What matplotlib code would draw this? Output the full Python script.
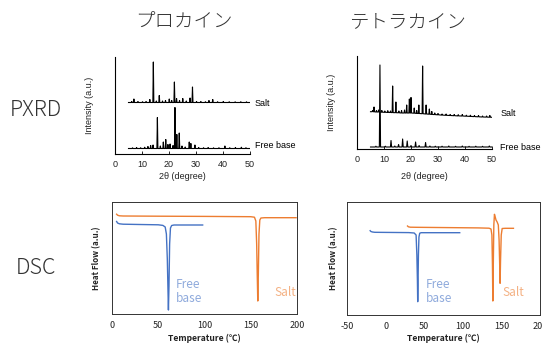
import numpy as np
import matplotlib
matplotlib.use("Agg")
import matplotlib.pyplot as plt

plt.rcParams["axes.unicode_minus"] = False

# --- PXRD peak lists (2theta, top of peak, foot level) ---
# procaine salt, flat baseline
pro_salt_pos = [6.2, 7.0, 8.5, 10.2, 11.5, 12.9, 14.2, 15.3, 16.4, 17.6, 18.7, 20.1, 21.0, 22.0, 22.8,
                23.9, 25.1, 26.4, 27.8, 28.7, 30.2, 31.8, 33.5, 34.8, 36.2, 38.0, 40.1, 42.3, 44.5, 46.6, 48.7]
pro_salt_top = [52.5, 55.0, 52.5, 52.3, 52.5, 54.5, 92.0, 53.0, 58.5, 53.0, 53.5, 55.0, 53.5, 72.0, 55.5,
                53.5, 55.5, 53.0, 56.0, 67.0, 52.5, 52.5, 52.3, 53.5, 54.5, 52.3, 52.5, 52.3, 52.2, 52.3, 52.2]
pro_salt_base = 51.5

# procaine free base
pro_free_pos = [6.5, 8.0, 9.5, 11.0, 12.2, 13.2, 14.1, 15.7, 16.8, 17.9, 18.8, 19.6, 20.4, 21.5, 22.2, 22.9,
                23.8, 24.8, 26.0, 27.5, 28.1, 29.6, 31.0, 32.8, 34.5, 36.5, 38.5, 40.7, 42.5, 44.6, 46.8, 48.5]
pro_free_top = [6.2, 6.5, 6.3, 6.8, 7.5, 8.5, 9.0, 36.5, 8.0, 12.0, 14.5, 9.5, 10.0, 8.5, 46.5, 19.5,
                21.0, 8.0, 7.0, 12.0, 10.5, 9.0, 6.5, 6.3, 6.5, 6.2, 6.3, 8.0, 6.3, 6.5, 6.8, 6.3]
pro_free_base = 5.5

# tetracaine salt, baseline drifts down
tet_salt_pos = [5.8, 6.3, 7.2, 8.0, 9.2, 10.3, 11.4, 12.4, 13.2, 14.4, 15.5, 16.5, 17.6, 18.4, 19.4, 20.0,
                21.2, 22.1, 22.9, 24.3, 25.6, 26.8, 27.7, 28.8, 30.0, 31.5, 33.0, 34.5, 36.0, 37.5, 39.0,
                40.5, 42.0, 43.5, 45.0, 46.5, 48.0, 49.2]
tet_salt_top = [38.5, 42.0, 38.5, 39.0, 38.5, 38.0, 38.3, 38.0, 63.0, 47.0, 38.0, 38.5, 39.0, 44.0, 50.0, 51.5,
                41.0, 38.5, 44.0, 83.0, 44.0, 40.0, 37.5, 36.0, 35.5, 35.0, 35.0, 34.5, 34.5, 34.3, 34.5,
                33.8, 33.8, 33.5, 33.5, 33.0, 33.0, 33.5]
tet_salt_foot = [37.3, 37.2, 37.0, 37.0, 36.8, 36.7, 36.6, 36.5, 36.4, 36.3, 36.2, 36.0, 36.0, 36.0, 36.0, 36.0,
                 35.8, 35.6, 35.5, 35.3, 35.0, 34.8, 34.6, 34.4, 34.2, 33.9, 33.7, 33.5, 33.3, 33.1, 33.0,
                 32.8, 32.6, 32.4, 32.2, 32.0, 31.9, 31.8]
tet_salt_ends = (37.3, 31.7)

# tetracaine free base
tet_free_pos = [7.0, 8.5, 10.5, 12.6, 14.0, 15.4, 16.9, 18.6, 20.0, 21.7, 23.0, 25.4, 27.0, 29.0, 31.5,
                34.0, 36.5, 39.0, 41.5, 44.0, 46.5, 49.0]
tet_free_top = [2.8, 84.0, 2.8, 8.5, 3.0, 4.5, 10.0, 8.0, 3.5, 7.0, 3.5, 6.5, 3.0, 2.8, 2.8,
                3.0, 2.7, 3.0, 2.7, 2.8, 2.7, 3.0]
tet_free_base = 2.0

# --- DSC curves (temperature, heat flow) ---
pro_dsc_free_T = [5, 6, 8, 12, 30, 50, 55, 57.5, 58.8, 59.8, 60.5, 61.0, 61.6, 62.3, 63.2, 64.5, 67, 80, 98]
pro_dsc_free_hf = [92.5, 91.0, 90.2, 89.8, 89.5, 89.2, 88.6, 87.0, 80.0, 55.0, 25.0, 4.0, 28.0, 70.0, 86.0,
                   88.5, 89.0, 89.0, 89.0]
pro_dsc_salt_T = [5, 6, 8, 12, 50, 100, 150, 154, 155.5, 156.4, 157.0, 157.6, 158.2, 158.9, 159.8, 161,
                  165, 180, 199]
pro_dsc_salt_hf = [99.8, 98.8, 98.2, 98.0, 97.8, 97.6, 97.3, 96.8, 93.0, 70.0, 40.0, 13.0, 40.0, 80.0, 94.0,
                   96.0, 96.3, 96.3, 96.3]

tet_dsc_free_T = [-20, -19, -17, -14, 0, 30, 37, 39.5, 40.5, 41.2, 41.6, 42.0, 42.5, 43.2, 44.2, 46, 55, 80, 96]
tet_dsc_free_hf = [84.3, 83.5, 83.0, 82.7, 82.6, 82.4, 82.0, 80.0, 60.0, 35.0, 13.3, 30.0, 60.0, 78.0, 81.8,
                   82.3, 82.3, 82.3, 82.3]
tet_dsc_salt_T = [28.4, 29.5, 32, 40, 80, 120, 134, 136.5, 137.7, 138.4, 138.9, 139.5, 140.2, 141.0, 142.0,
                  143.0, 144.5, 146.0, 147.0, 147.8, 148.3, 148.9, 149.8, 151, 155, 165.6]
tet_dsc_salt_hf = [89.0, 88.2, 87.8, 87.7, 87.4, 87.1, 86.8, 86.0, 80.0, 50.0, 14.0, 50.0, 90.0, 100.7, 98.0,
                   95.0, 93.0, 90.0, 75.0, 50.0, 31.7, 55.0, 80.0, 86.5, 86.7, 86.7]

BLUE = "#4472C4"
ORANGE = "#ED7D31"
BLUE_TXT = "#8FAADC"
ORANGE_TXT = "#F4B183"
JP = ["Noto Sans CJK JP", "DejaVu Sans"]
LAT = ["Liberation Sans", "DejaVu Sans"]

W, H = 542, 345


def px_axes(fig, left, top, right, bottom):
    return fig.add_axes([left / W, 1 - bottom / H, (right - left) / W, (bottom - top) / H])


def pattern(pos, top, foot, start, end, w=0.18):
    # stick pattern: each peak is a narrow triangle on its foot level
    if np.isscalar(foot):
        foot = [foot] * len(pos)
    x = [5.0]
    y = [start]
    for p, t, f in zip(pos, top, foot):
        x += [p - w, p, p + w]
        y += [f, t, f]
    x.append(50.0)
    y.append(end)
    return x, y


def style_pxrd(ax, ymax):
    ax.set_xlim(0, 50)
    ax.set_ylim(0, ymax)
    for s in ["top", "right"]:
        ax.spines[s].set_visible(False)
    for s in ["left", "bottom"]:
        ax.spines[s].set_linewidth(0.8)
    ax.set_yticks([])
    ax.set_xticks(range(0, 51, 10))
    ax.tick_params(axis="x", direction="in", length=2.5, width=0.6, pad=4.5, labelsize=6.5,
                   labelcolor="#222222")
    for lab in ax.get_xticklabels():
        lab.set_family(LAT)
    ax.set_xlabel("2θ (degree)", fontsize=6.5, family=LAT, color="#222222")
    ax.set_ylabel("Intensity (a.u.)", fontsize=6.5, family=LAT, color="#222222")


def style_dsc(ax, xlim, xticks, ymax):
    ax.set_xlim(*xlim)
    ax.set_ylim(0, ymax)
    for s in ax.spines.values():
        s.set_linewidth(0.7)
        s.set_color("#333333")
    ax.set_yticks([])
    ax.set_xticks(xticks)
    ax.tick_params(axis="x", length=0, pad=5, labelsize=6.5, labelcolor="#222222")
    for lab in ax.get_xticklabels():
        lab.set_family(JP)
    ax.set_xlabel("Temperature (℃)", fontsize=6.2, family=JP, fontweight="bold", color="#222222")
    ax.set_ylabel("Heat Flow (a.u.)", fontsize=5.8, family=JP, fontweight="bold", color="#222222")


fig = plt.figure(figsize=(W / 100, H / 100), dpi=100)

# procaine PXRD
ax1 = px_axes(fig, 115, 57, 250, 154)
x, y = pattern(pro_salt_pos, pro_salt_top, pro_salt_base, pro_salt_base, pro_salt_base)
ax1.plot(x, y, color="black", lw=0.8)
x, y = pattern(pro_free_pos, pro_free_top, pro_free_base, pro_free_base, pro_free_base)
ax1.plot(x, y, color="black", lw=0.8)
style_pxrd(ax1, 97)
ax1.xaxis.set_label_coords(0.5, -0.185)
ax1.yaxis.set_label_coords(-0.155, 0.5)
ax1.text(51.8, 50, "Salt", fontsize=6.5, family=LAT, va="center", clip_on=False)
ax1.text(51.8, 8, "Free base", fontsize=6.5, family=LAT, va="center", clip_on=False)

# tetracaine PXRD
ax2 = px_axes(fig, 357, 56, 492, 149)
x, y = pattern(tet_salt_pos, tet_salt_top, tet_salt_foot, *tet_salt_ends)
ax2.plot(x, y, color="black", lw=0.8)
x, y = pattern(tet_free_pos, tet_free_top, tet_free_base, tet_free_base, tet_free_base, w=0.22)
ax2.plot(x, y, color="black", lw=0.8)
style_pxrd(ax2, 93)
ax2.xaxis.set_label_coords(0.5, -0.245)
ax2.yaxis.set_label_coords(-0.156, 0.5)
ax2.text(53, 35, "Salt", fontsize=6.5, family=LAT, va="center", clip_on=False)
ax2.text(53, 2, "Free base", fontsize=6.5, family=LAT, va="center", clip_on=False)

# procaine DSC
ax3 = px_axes(fig, 112, 202, 297, 314)
ax3.plot(pro_dsc_free_T, pro_dsc_free_hf, color=BLUE, lw=1.0)
ax3.plot(pro_dsc_salt_T, pro_dsc_salt_hf, color=ORANGE, lw=1.0)
style_dsc(ax3, (0, 200), range(0, 201, 50), 112)
ax3.xaxis.set_label_coords(0.5, -0.18)
ax3.yaxis.set_label_coords(-0.06, 0.5)
ax3.text(69, 30, "Free", fontsize=8.5, family=JP, color=BLUE_TXT, va="center")
ax3.text(69, 16, "base", fontsize=8.5, family=JP, color=BLUE_TXT, va="center")
ax3.text(176, 22, "Salt", fontsize=8.5, family=JP, color=ORANGE_TXT, va="center")

# tetracaine DSC
ax4 = px_axes(fig, 347, 202, 540, 315)
ax4.plot(tet_dsc_free_T, tet_dsc_free_hf, color=BLUE, lw=1.0)
ax4.plot(tet_dsc_salt_T, tet_dsc_salt_hf, color=ORANGE, lw=1.0)
style_dsc(ax4, (-50, 200), range(-50, 201, 50), 113)
ax4.xaxis.set_label_coords(0.5, -0.17)
ax4.yaxis.set_label_coords(-0.047, 0.5)
ax4.text(52, 31, "Free", fontsize=8.5, family=JP, color=BLUE_TXT, va="center")
ax4.text(52, 17, "base", fontsize=8.5, family=JP, color=BLUE_TXT, va="center")
ax4.text(151, 23, "Salt", fontsize=8.5, family=JP, color=ORANGE_TXT, va="center")

# column titles and row labels
fig.text(183.5 / W, 1 - 22 / H, "プロカイン", fontsize=14, family=JP, fontweight="light",
         color="#333333", ha="center", va="center")
fig.text(407.5 / W, 1 - 22 / H, "テトラカイン", fontsize=14, family=JP, fontweight="light",
         color="#333333", ha="center", va="center")
fig.text(36 / W, 1 - 110 / H, "PXRD", fontsize=15.5, family=JP, fontweight="light",
         color="#333333", ha="center", va="center")
fig.text(36 / W, 1 - 268 / H, "DSC", fontsize=15.5, family=JP, fontweight="light",
         color="#333333", ha="center", va="center")

fig.savefig("out.png", dpi=100)
